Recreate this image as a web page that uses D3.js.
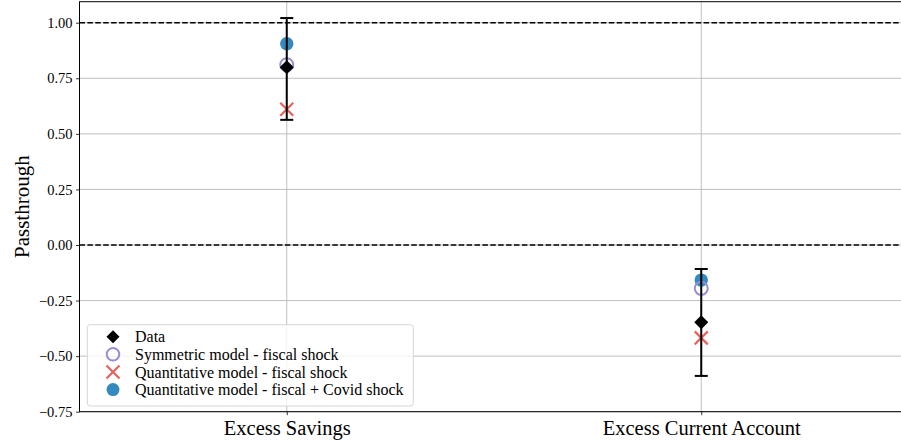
<!DOCTYPE html>
<html><head><meta charset="utf-8">
<script src="https://cdn.jsdelivr.net/npm/d3@7"></script>
<style>
html,body{margin:0;padding:0;background:#fff;}
svg{display:block;font-family:"Liberation Serif","DejaVu Serif",serif;}
</style></head>
<body><svg id="c" width="901" height="442"></svg>
<script>
const categories = ["Excess Savings", "Excess Current Account"];
const dataValues = [0.80, -0.348];
const errLow = [0.563, -0.589];
const errHigh = [1.021, -0.108];
const symmetricValues = [0.811, -0.195];
const quantFiscalValues = [0.611, -0.418];
const quantCovidValues = [0.905, -0.158];
const yTicks = [-0.75, -0.5, -0.25, 0, 0.25, 0.5, 0.75, 1.0];
const refLines = [0, 1];
const legendLabels = ["Data", "Symmetric model - fiscal shock", "Quantitative model - fiscal shock", "Quantitative model - fiscal + Covid shock"];

const svg = d3.select("#c");
const L = 79.5, R = 908.5, T = 1.7, B = 411.7;
const x = d3.scaleLinear().domain([-0.5, 1.5]).range([L, R]);
const y = d3.scaleLinear().domain([-0.75, 1.0945]).range([B, T]);

// grid
const g = svg.append("g");
g.selectAll(".hg").data(yTicks).join("line")
  .attr("x1", L).attr("x2", R).attr("y1", d => y(d)).attr("y2", d => y(d))
  .attr("stroke", "#b0b0b0").attr("stroke-width", 0.8);
g.selectAll(".vg").data(categories).join("line")
  .attr("x1", (d, i) => x(i)).attr("x2", (d, i) => x(i)).attr("y1", T).attr("y2", B)
  .attr("stroke", "#b0b0b0").attr("stroke-width", 0.8);

// dashed reference lines
g.selectAll(".rl").data(refLines).join("line")
  .attr("x1", L).attr("x2", R).attr("y1", d => y(d)).attr("y2", d => y(d))
  .attr("stroke", "#000").attr("stroke-width", 1.5).attr("stroke-dasharray", "5.5,2.4");

// axes
const fmt = d => (d < 0 ? "\u2212" : "") + Math.abs(d).toFixed(2);
const ya = svg.append("g").attr("transform", `translate(${L},0)`)
  .call(d3.axisLeft(y).tickValues(yTicks).tickFormat(fmt).tickSizeOuter(0).tickSize(3.5).tickPadding(3.5));
ya.select(".domain").remove();
ya.selectAll("text").attr("font-size", 14.5).attr("font-family", "Liberation Serif").attr("fill", "#000");
ya.selectAll("line").attr("stroke", "#000").attr("stroke-width", 0.8);

const xa = svg.append("g").attr("transform", `translate(0,${B})`)
  .call(d3.axisBottom(x).tickValues([0, 1]).tickFormat(i => categories[i]).tickSizeOuter(0).tickSize(3.5));
xa.select(".domain").remove();
xa.selectAll("text").attr("font-size", 20.5).attr("font-family", "Liberation Serif").attr("fill", "#000")
  .attr("y", 23.5).attr("dy", "0");
xa.selectAll("line").attr("stroke", "#000").attr("stroke-width", 0.8);

// spines
svg.append("rect").attr("x", L).attr("y", T).attr("width", R - L).attr("height", B - T)
  .attr("fill", "none").attr("stroke", "#000").attr("stroke-width", 1);

// y label
svg.append("text").attr("transform", `translate(29,${(T + B) / 2}) rotate(-90)`)
  .attr("text-anchor", "middle").attr("font-size", 21).attr("fill", "#000").text("Passthrough");

const idx = categories.map((c, i) => i);
const blue = "#348ABD", purple = "#988ED5", red = "#E8635C";

function xMark(sel, cx, cy, s) {
  sel.append("path").attr("d", `M${cx - s},${cy - s}L${cx + s},${cy + s}M${cx - s},${cy + s}L${cx + s},${cy - s}`)
    .attr("stroke", red).attr("stroke-width", 2.2).attr("fill", "none");
}
function diamond(sel, cx, cy, s) {
  sel.append("path").attr("d", `M${cx},${cy - s}L${cx + s},${cy}L${cx},${cy + s}L${cx - s},${cy}Z`).attr("fill", "#000");
}

const m = svg.append("g");
m.selectAll(".cv").data(idx).join("circle")
  .attr("cx", i => x(i)).attr("cy", i => y(quantCovidValues[i])).attr("r", 6.7).attr("fill", blue);
m.selectAll(".sy").data(idx).join("circle")
  .attr("cx", i => x(i)).attr("cy", i => y(symmetricValues[i])).attr("r", 6.5).attr("fill", "none")
  .attr("stroke", purple).attr("stroke-width", 2);
idx.forEach(i => xMark(m, x(i), y(quantFiscalValues[i]), 6.5));
idx.forEach(i => {
  const cx = x(i);
  m.append("line").attr("x1", cx).attr("x2", cx).attr("y1", y(errLow[i])).attr("y2", y(errHigh[i]))
    .attr("stroke", "#000").attr("stroke-width", 2);
  [errLow[i], errHigh[i]].forEach(v => {
    m.append("line").attr("x1", cx - 6.5).attr("x2", cx + 6.5).attr("y1", y(v)).attr("y2", y(v))
      .attr("stroke", "#000").attr("stroke-width", 2);
  });
  diamond(m, cx, y(dataValues[i]), 7);
});

// legend
const lg = svg.append("g");
lg.append("rect").attr("x", 87.3).attr("y", 324.7).attr("width", 326).attr("height", 81.3).attr("rx", 3)
  .attr("fill", "rgba(255,255,255,0.8)").attr("stroke", "#d6d6d6").attr("stroke-width", 1);
const ly = [336.7, 354.3, 372, 389.6];
const lmx = 113, ltx = 135;
diamond(lg, lmx, ly[0], 6.5);
lg.append("circle").attr("cx", lmx).attr("cy", ly[1]).attr("r", 6.3).attr("fill", "none").attr("stroke", purple).attr("stroke-width", 2);
xMark(lg, lmx, ly[2], 6.5);
lg.append("circle").attr("cx", lmx).attr("cy", ly[3]).attr("r", 6.5).attr("fill", blue);
lg.selectAll(".lt").data(legendLabels).join("text")
  .attr("x", ltx).attr("y", (d, i) => ly[i]).attr("dy", "0.35em")
  .attr("font-size", 16).attr("fill", "#000").text(d => d);
</script></body></html>
